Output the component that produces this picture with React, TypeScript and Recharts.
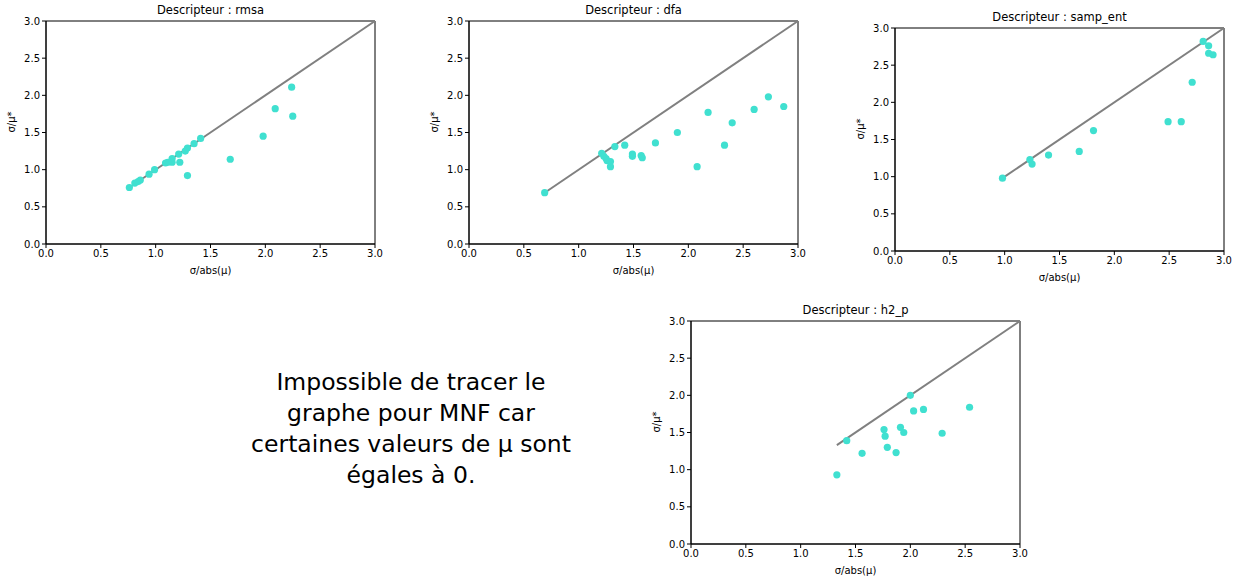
import { ScatterChart, Scatter, XAxis, YAxis, ReferenceLine, ReferenceArea } from 'recharts';

const ticks = [0, 0.5, 1.0, 1.5, 2.0, 2.5, 3.0];

// Descripteur : rmsa
const rmsaX = [0.76, 0.81, 0.84, 0.86, 0.94, 0.99, 1.09, 1.11, 1.15, 1.15, 1.21, 1.22, 1.27, 1.29, 1.29, 1.35, 1.41, 1.68, 1.98, 2.09, 2.24, 2.25];
const rmsaY = [0.76, 0.82, 0.84, 0.86, 0.94, 1.0, 1.09, 1.1, 1.15, 1.1, 1.21, 1.1, 1.25, 1.29, 0.92, 1.35, 1.42, 1.14, 1.45, 1.82, 2.11, 1.72];

// Descripteur : dfa
const dfaX = [0.69, 1.21, 1.23, 1.25, 1.26, 1.29, 1.29, 1.33, 1.42, 1.49, 1.49, 1.57, 1.58, 1.7, 1.9, 2.08, 2.18, 2.33, 2.4, 2.6, 2.73, 2.87];
const dfaY = [0.69, 1.22, 1.18, 1.15, 1.12, 1.11, 1.04, 1.31, 1.33, 1.21, 1.18, 1.19, 1.16, 1.36, 1.5, 1.04, 1.77, 1.33, 1.63, 1.81, 1.98, 1.85];

// Descripteur : samp_ent
const sampX = [0.98, 1.23, 1.25, 1.4, 1.68, 1.81, 2.49, 2.61, 2.71, 2.81, 2.86, 2.86, 2.9];
const sampY = [0.98, 1.23, 1.17, 1.29, 1.34, 1.62, 1.74, 1.74, 2.27, 2.82, 2.76, 2.66, 2.64];

// Descripteur : h2_p
const h2pX = [1.33, 1.42, 1.56, 1.76, 1.77, 1.79, 1.87, 1.91, 1.94, 2.0, 2.03, 2.12, 2.29, 2.54];
const h2pY = [0.93, 1.39, 1.22, 1.54, 1.45, 1.3, 1.23, 1.57, 1.5, 2.0, 1.79, 1.81, 1.49, 1.84];

const message = ['Impossible de tracer le', 'graphe pour MNF car', 'certaines valeurs de µ sont', 'égales à 0.'];

const FONT = '"DejaVu Sans", sans-serif';
const tickStyle = { fontSize: 10, fill: '#000', fontFamily: FONT };

interface PanelProps {
  title: string;
  xs: number[];
  ys: number[];
  left: number; // plot area left
  top: number; // plot area top
}

function Panel({ title, xs, ys, left, top }: PanelProps) {
  const plotW = 329;
  const plotH = 223;
  const yAxisW = 46;
  const xAxisH = 34;
  const data = xs.map((x, i) => ({ x, y: ys[i] }));
  const start = Math.min(...xs);

  return (
    <div style={{ position: 'absolute', left: left - yAxisW, top: top - 21 }}>
      <div
        style={{
          position: 'absolute',
          left: yAxisW,
          width: plotW,
          top: 3,
          textAlign: 'center',
          fontSize: 11.5,
          fontFamily: FONT,
          lineHeight: '14px',
        }}
      >
        {title}
      </div>
      <ScatterChart
        width={yAxisW + plotW + 20}
        height={21 + plotH + xAxisH}
        margin={{ top: 21, right: 20, bottom: 0, left: 0 }}
      >
        <XAxis
          type="number"
          dataKey="x"
          domain={[0, 3]}
          ticks={ticks}
          tickFormatter={(v: number) => v.toFixed(1)}
          tick={tickStyle}
          tickSize={4}
          height={xAxisH}
          stroke="#000"
          label={{ value: 'σ/abs(μ)', position: 'insideBottom', offset: 4, fontSize: 10, fill: '#000', fontFamily: FONT }}
        />
        <YAxis
          type="number"
          dataKey="y"
          domain={[0, 3]}
          ticks={ticks}
          tickFormatter={(v: number) => v.toFixed(1)}
          tick={tickStyle}
          tickSize={4}
          width={yAxisW}
          stroke="#000"
          label={{ value: 'σ/μ*', angle: -90, position: 'insideLeft', offset: 11, fontSize: 10, fill: '#000', fontFamily: FONT }}
        />
        <ReferenceArea x1={0} x2={3} y1={0} y2={3} fill="none" stroke="#000" strokeWidth={1} />
        <Scatter
          data={data}
          isAnimationActive={false}
          shape={(p: any) => <circle cx={p.cx} cy={p.cy} r={3.6} fill="#40E0D0" />}
        />
        <ReferenceLine
          segment={[{ x: start, y: start }, { x: 3, y: 3 }]}
          stroke="#808080"
          strokeWidth={2}
        />
      </ScatterChart>
    </div>
  );
}

export default function App() {
  return (
    <div
      style={{
        position: 'absolute',
        left: 0,
        top: 0,
        width: 1241,
        height: 581,
        background: '#fff',
        overflow: 'hidden',
      }}
    >
      <Panel title="Descripteur : rmsa" xs={rmsaX} ys={rmsaY} left={46} top={21} />
      <Panel title="Descripteur : dfa" xs={dfaX} ys={dfaY} left={469} top={21} />
      <Panel title="Descripteur : samp_ent" xs={sampX} ys={sampY} left={895} top={28} />
      <Panel title="Descripteur : h2_p" xs={h2pX} ys={h2pY} left={691} top={321} />
      <div
        style={{
          position: 'absolute',
          left: 211,
          width: 400,
          top: 367,
          textAlign: 'center',
          fontFamily: FONT,
          fontSize: 23.5,
          lineHeight: '31px',
          color: '#000',
        }}
      >
        {message.map((line) => (
          <div key={line}>{line}</div>
        ))}
      </div>
    </div>
  );
}
